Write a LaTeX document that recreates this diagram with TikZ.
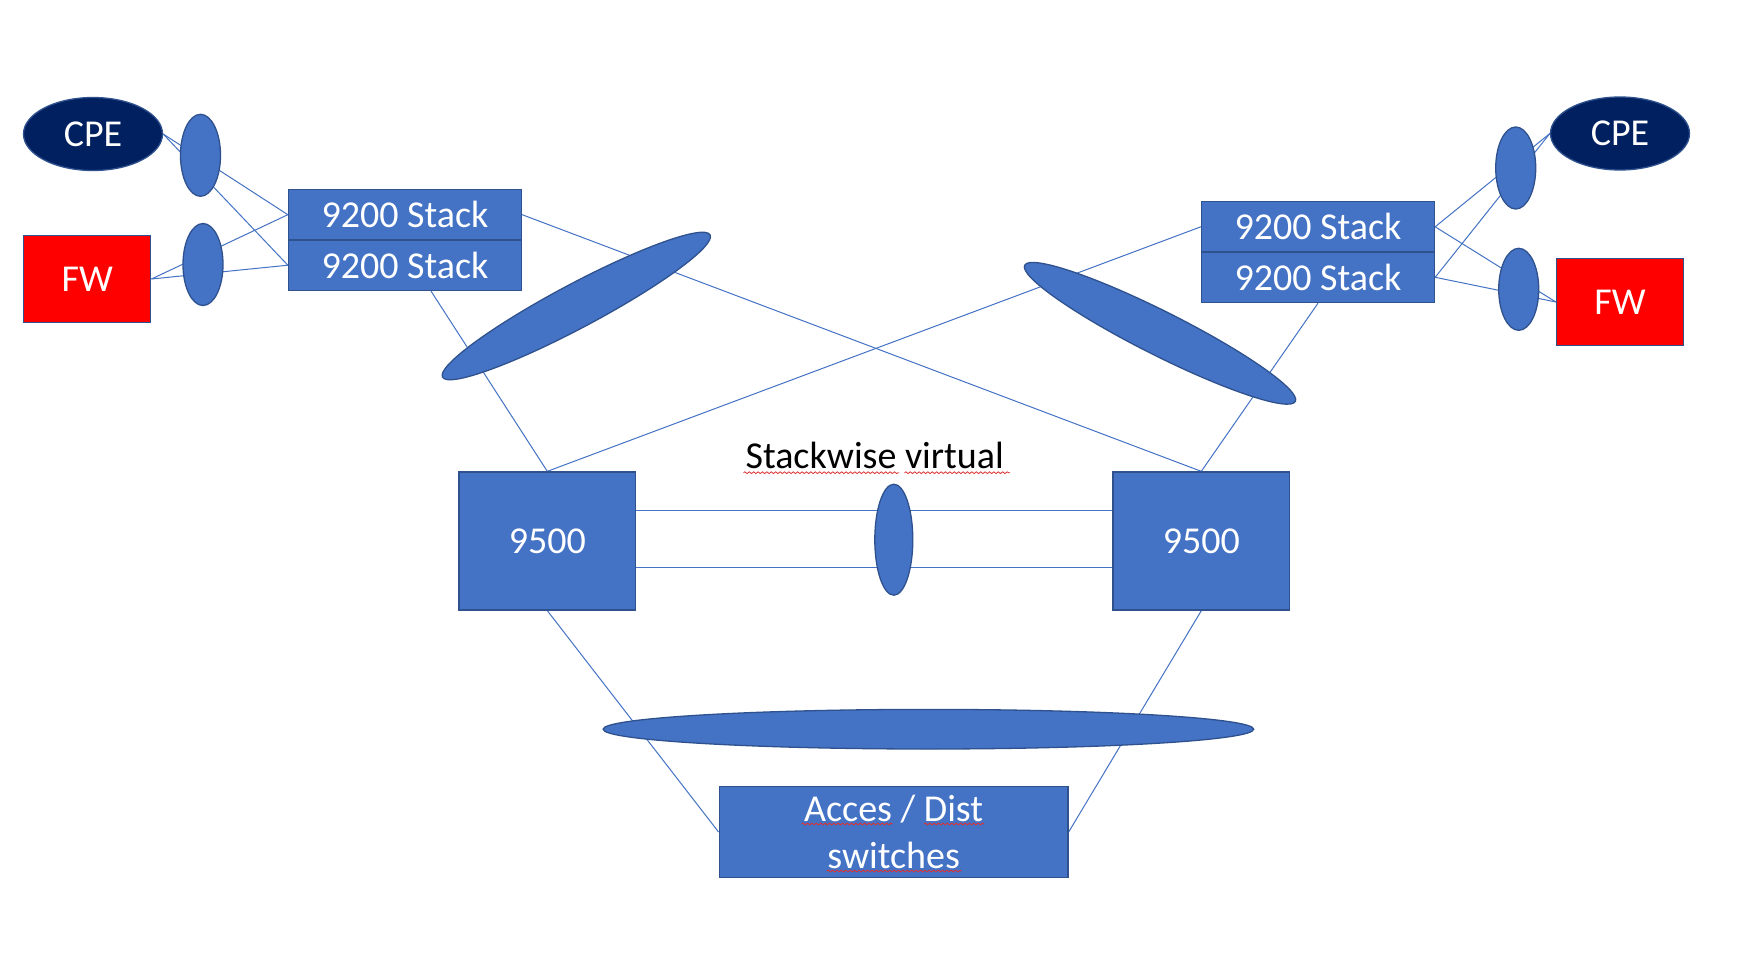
\documentclass[tikz,border=0pt]{standalone}
\usepackage{fontspec}
\setmainfont{Carlito}
\usetikzlibrary{shapes.geometric,backgrounds,decorations.pathmorphing,calc}
\definecolor{fillblue}{HTML}{4472C4}
\definecolor{edgeblue}{HTML}{2F528F}
\definecolor{navy}{HTML}{002060}
\definecolor{fwred}{HTML}{FF0000}
\definecolor{spellred}{HTML}{E03030}
\begin{document}
\begin{tikzpicture}[x=0.5pt,y=-0.5pt,
  font=\fontsize{19}{23.3}\selectfont,
  box/.style={rectangle, draw=edgeblue, fill=fillblue, line width=0.65pt, inner sep=0pt, text=white, align=center},
  lag/.style={ellipse, draw=edgeblue, fill=fillblue, line width=0.65pt, inner sep=0pt},
  cpe/.style={ellipse, draw=edgeblue, fill=navy, line width=0.65pt, inner sep=0pt, text=white, minimum width=69.5pt, minimum height=36.5pt},
  fwbox/.style={rectangle, draw=edgeblue, fill=fwred, line width=0.65pt, inner sep=0pt, text=white, minimum width=63.5pt, minimum height=43.3pt},
  stackbox/.style={box, minimum width=116.5pt, minimum height=25.25pt},
  corebox/.style={box, minimum width=88.25pt, minimum height=69pt},
  smalllag/.style={lag, minimum width=20pt, minimum height=41pt},
  biglag/.style={lag, minimum width=151.5pt, minimum height=22pt},
  link/.style={draw=fillblue, line width=0.5pt},
  spell/.style={draw=spellred, line width=0.4pt, decorate, decoration={snake, amplitude=0.45pt, segment length=2.2pt}}
]
\useasboundingbox (0,0) rectangle (1764,952);

% left side
\node[cpe] (cpeL) at (93,134) {CPE};
\node[fwbox] (fwL) at (87.3,279) {FW};
\node[stackbox] (sLt) at (405,214.7) {9200 Stack};
\node[stackbox] (sLb) at (405,265.2) {9200 Stack};
\node[smalllag] (lagL1) at (200.5,155.3) {};
\node[smalllag] (lagL2) at (203,264.5) {};

% right side
\node[cpe] (cpeR) at (1620,133.5) {CPE};
\node[fwbox] (fwR) at (1620,302) {FW};
\node[stackbox] (sRt) at (1318,226.8) {9200 Stack};
\node[stackbox] (sRb) at (1318,277.3) {9200 Stack};
\node[smalllag] (lagR1) at (1515.7,168) {};
\node[smalllag] (lagR2) at (1518.7,289.3) {};

% big diagonal bundles
\node[biglag, rotate=28] (bigL) at (576.3,306) {};
\node[biglag, rotate=-26.7] (bigR) at (1160,333.3) {};

% core
\node[corebox] (cL) at (547.3,541) {9500};
\node[corebox] (cR) at (1201.3,541) {9500};
\node[lag, minimum width=19pt, minimum height=55.5pt] (svl) at (893.8,539.7) {};
\node[anchor=base, inner sep=0pt] (svt) at (874.7,468.3) {Stackwise virtual};

% access
\node[lag, minimum width=325.3pt, minimum height=19.8pt] (accLag) at (928.4,729.2) {};
\node[box, minimum width=174.4pt, minimum height=45.4pt] (acc) at (893.6,832) {Acces / Dist\\switches};

\coordinate (sLbx) at ($(sLb.south)+(26,0)$);
\coordinate (cLe1) at ($(cL.east)+(0,-30.3)$);
\coordinate (cLe2) at ($(cL.east)+(0,26.3)$);
\coordinate (cRw1) at ($(cR.west)+(0,-30.3)$);
\coordinate (cRw2) at ($(cR.west)+(0,26.3)$);

\begin{pgfonlayer}{background}
\fill[white] (0,0) rectangle (1764,952);
\draw[link] (cpeL.east) -- (sLt.west);
\draw[link] (cpeL.east) -- (sLb.west);
\draw[link] (fwL.east) -- (sLt.west);
\draw[link] (fwL.east) -- (sLb.west);
\draw[link] (sLt.east) -- (cR.north);
\draw[link] (sLbx) -- (cL.north);
\draw[link] (sRt.west) -- (cL.north);
\draw[link] (sRb.south) -- (cR.north);
\draw[link] (sRt.east) -- (cpeR.west);
\draw[link] (sRb.east) -- (cpeR.west);
\draw[link] (sRt.east) -- (fwR.west);
\draw[link] (sRb.east) -- (fwR.west);
\draw[link] (cLe1) -- (cRw1);
\draw[link] (cLe2) -- (cRw2);
\draw[link] (cL.south) -- (acc.west);
\draw[link] (cR.south) -- (acc.east);
\end{pgfonlayer}

% spelling underlines
\draw[spell] (743.5,472.7) -- (899,472.7);
\draw[spell] (904.5,472.7) -- (1010,472.7);
\draw[spell] (801.7,824) -- (892.7,824);
\draw[spell] (924,824) -- (984,824);
\draw[spell] (826.7,871) -- (961.7,871);
\end{tikzpicture}
\end{document}
